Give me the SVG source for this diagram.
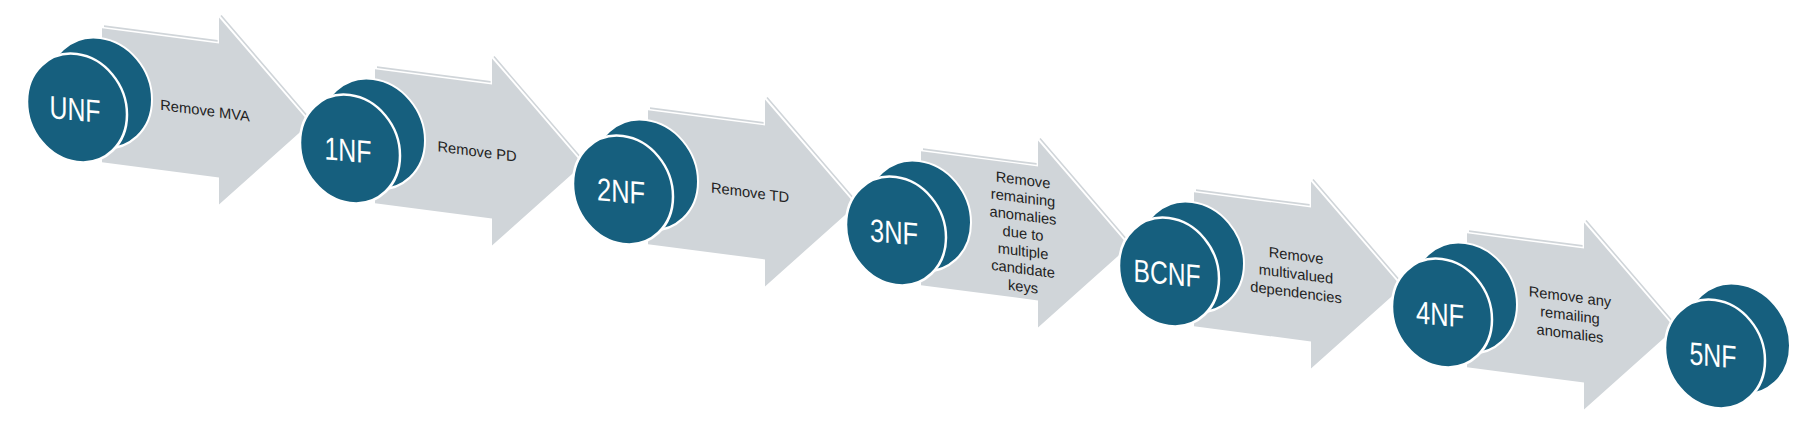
<svg xmlns="http://www.w3.org/2000/svg" width="1814" height="427" viewBox="0 0 1814 427">
<style>
.arrow{fill:#D0D5D9}
.hi{fill:none;stroke:#D0D5D9;stroke-width:1.7}
.back{fill:#165F7E;stroke:#FFFFFF;stroke-width:2}
.front{fill:#165F7E;stroke:#FFFFFF;stroke-width:2.5}
.ntext{font-family:"Liberation Sans",Arial,sans-serif;font-size:32px;fill:#FFFFFF;text-anchor:middle}
.ltext{font-family:"Liberation Sans",Arial,sans-serif;font-size:14.7px;fill:#222222;text-anchor:middle}
</style>
<defs>
<path id="arrowShape" d="M25,-83 H142 V-109 L233,-15 L142,78 V51 H25 Z"/>
<path id="arrowHi" d="M27,-85.3 H140.6 M144,-111.1 L235,-17"/>
<ellipse id="backE" cx="23" cy="-18" rx="52" ry="55"/>
<ellipse id="frontE" cx="0" cy="0" rx="50" ry="54"/>
</defs>
<rect x="0" y="0" width="1814" height="427" fill="#FFFFFF"/>
<g id="connectors">
<g id="arrow-unf-1nf" transform="translate(77,108) skewY(7.4)">
<use href="#arrowShape" class="arrow"/><use href="#arrowHi" class="hi"/>
<text class="ltext" x="128" y="-9">Remove MVA</text>
</g>
<g id="arrow-1nf-2nf" transform="translate(350,149) skewY(7.4)">
<use href="#arrowShape" class="arrow"/><use href="#arrowHi" class="hi"/>
<text class="ltext" x="127" y="-9">Remove PD</text>
</g>
<g id="arrow-2nf-3nf" transform="translate(623,190) skewY(7.4)">
<use href="#arrowShape" class="arrow"/><use href="#arrowHi" class="hi"/>
<text class="ltext" x="127" y="-9">Remove TD</text>
</g>
<g id="arrow-3nf-bcnf" transform="translate(896,231) skewY(7.4)">
<use href="#arrowShape" class="arrow"/><use href="#arrowHi" class="hi"/>
<text class="ltext" x="127" y="-62.5">Remove<tspan x="127" dy="17.8">remaining</tspan><tspan x="127" dy="17.8">anomalies</tspan><tspan x="127" dy="17.8">due to</tspan><tspan x="127" dy="17.8">multiple</tspan><tspan x="127" dy="17.8">candidate</tspan><tspan x="127" dy="17.8">keys</tspan></text>
</g>
<g id="arrow-bcnf-4nf" transform="translate(1169,272) skewY(7.4)">
<use href="#arrowShape" class="arrow"/><use href="#arrowHi" class="hi"/>
<text class="ltext" x="127" y="-28">Remove<tspan x="127" dy="18.5">multivalued</tspan><tspan x="127" dy="18.5">dependencies</tspan></text>
</g>
<g id="arrow-4nf-5nf" transform="translate(1442,313) skewY(7.4)">
<use href="#arrowShape" class="arrow"/><use href="#arrowHi" class="hi"/>
<text class="ltext" x="128" y="-28">Remove any<tspan x="128" dy="18.5">remailing</tspan><tspan x="128" dy="18.5">anomalies</tspan></text>
</g>
</g>
<g id="unf" transform="translate(77,108) skewY(7.4)">
<use href="#backE" class="back"/><use href="#frontE" class="front"/>
<text class="ntext" x="-2" y="12.5" textLength="51" lengthAdjust="spacingAndGlyphs" transform="skewY(-2.4)">UNF</text>
</g>
<g id="1nf" transform="translate(350,149) skewY(7.4)">
<use href="#backE" class="back"/><use href="#frontE" class="front"/>
<text class="ntext" x="-2" y="12.5" textLength="47" lengthAdjust="spacingAndGlyphs" transform="skewY(-2.4)">1NF</text>
</g>
<g id="2nf" transform="translate(623,190) skewY(7.4)">
<use href="#backE" class="back"/><use href="#frontE" class="front"/>
<text class="ntext" x="-2" y="12.5" textLength="48" lengthAdjust="spacingAndGlyphs" transform="skewY(-2.4)">2NF</text>
</g>
<g id="3nf" transform="translate(896,231) skewY(7.4)">
<use href="#backE" class="back"/><use href="#frontE" class="front"/>
<text class="ntext" x="-2" y="12.5" textLength="48" lengthAdjust="spacingAndGlyphs" transform="skewY(-2.4)">3NF</text>
</g>
<g id="bcnf" transform="translate(1169,272) skewY(7.4)">
<use href="#backE" class="back"/><use href="#frontE" class="front"/>
<text class="ntext" x="-2" y="12.5" textLength="67" lengthAdjust="spacingAndGlyphs" transform="skewY(-2.4)">BCNF</text>
</g>
<g id="4nf" transform="translate(1442,313) skewY(7.4)">
<use href="#backE" class="back"/><use href="#frontE" class="front"/>
<text class="ntext" x="-2" y="12.5" textLength="48" lengthAdjust="spacingAndGlyphs" transform="skewY(-2.4)">4NF</text>
</g>
<g id="5nf" transform="translate(1715,354) skewY(7.4)">
<use href="#backE" class="back"/><use href="#frontE" class="front"/>
<text class="ntext" x="-2" y="12.5" textLength="47" lengthAdjust="spacingAndGlyphs" transform="skewY(-2.4)">5NF</text>
</g>
</svg>
